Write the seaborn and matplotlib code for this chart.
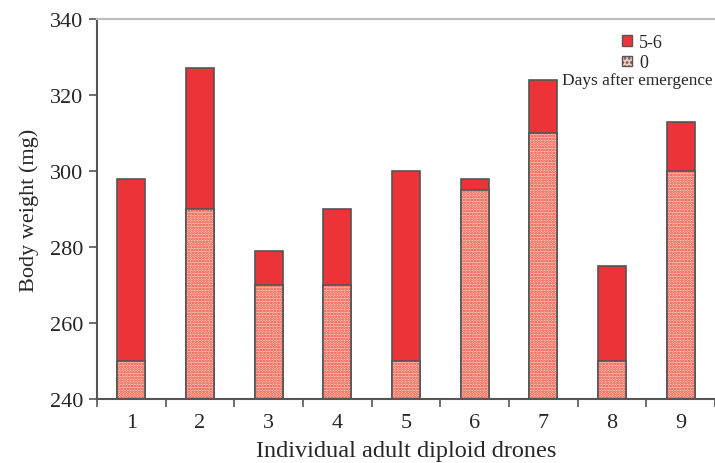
import matplotlib
matplotlib.use("Agg")
import matplotlib.pyplot as plt
from matplotlib.patches import Patch
from matplotlib.ticker import FixedLocator
import pandas as pd
import seaborn as sns

drones = ["1", "2", "3", "4", "5", "6", "7", "8", "9"]
weight_day0 = [250, 290, 270, 270, 250, 295, 310, 250, 300]
weight_day56 = [298, 327, 279, 290, 300, 298, 324, 275, 313]

df = pd.DataFrame({"drone": drones, "day0": weight_day0, "day56": weight_day56})

sns.set_style("white")
plt.rcParams["font.family"] = ["Liberation Serif", "DejaVu Serif"]
plt.rcParams["hatch.linewidth"] = 1.3

red = "#ec3438"
pink = "#f9cbbd"
edge = "#555555"

fig = plt.figure(figsize=(7.15, 4.64), dpi=100)
ax = fig.add_axes([97 / 715, 64 / 464, 618 / 715, 380 / 464])

# 5-6 days (full bar behind)
sns.barplot(data=df, x="drone", y="day56", color=red, saturation=1,
            width=0.41, edgecolor=edge, linewidth=1.2, ax=ax)
# 0 days, speckled fill
sns.barplot(data=df, x="drone", y="day0", color=pink, saturation=1,
            width=0.41, edgecolor="#ee4436", linewidth=0, hatch="......", ax=ax)
# outline for 0 days bars
sns.barplot(data=df, x="drone", y="day0", fill=False, saturation=1,
            width=0.41, edgecolor=edge, linewidth=1.2, ax=ax)

ax.set_xlim(-0.5, 8.5)
ax.set_ylim(240, 340)
ax.set_yticks(range(240, 341, 20))

ax.xaxis.set_minor_locator(FixedLocator([i - 0.5 for i in range(10)]))
ax.tick_params(axis="x", which="major", length=0, pad=10, labelsize=16)
ax.tick_params(axis="x", which="minor", length=6, width=1.2, color=edge, direction="out")
ax.tick_params(axis="y", length=6, width=1.2, color=edge, direction="out", labelsize=16, pad=4)
ax.tick_params(bottom=True, left=True, which="both")

for s in ["left", "bottom"]:
    ax.spines[s].set_color(edge)
    ax.spines[s].set_linewidth(1.5)
ax.spines["top"].set_color("#bbbbbb")
ax.spines["top"].set_linewidth(1.5)
ax.spines["right"].set_visible(False)

ax.set_xlabel("Individual adult diploid drones", fontsize=17.5, labelpad=6)
ax.set_ylabel("Body weight (mg)", fontsize=16, labelpad=8)

handles = [Patch(facecolor=red, edgecolor=edge, linewidth=1),
           Patch(facecolor=pink, edgecolor=edge, linewidth=1, hatch="....")]
leg = ax.legend(handles, ["5-6", "0"], loc="upper left", bbox_to_anchor=(0.838, 0.98),
                frameon=False, fontsize=13, handlelength=0.55, handleheight=0.55,
                handletextpad=0.4, labelspacing=0.2, borderaxespad=0)
ax.text(0.753, 0.84, "Days after emergence", transform=ax.transAxes,
        fontsize=12.4, ha="left", va="center")

plt.savefig("out.png", dpi=100)
